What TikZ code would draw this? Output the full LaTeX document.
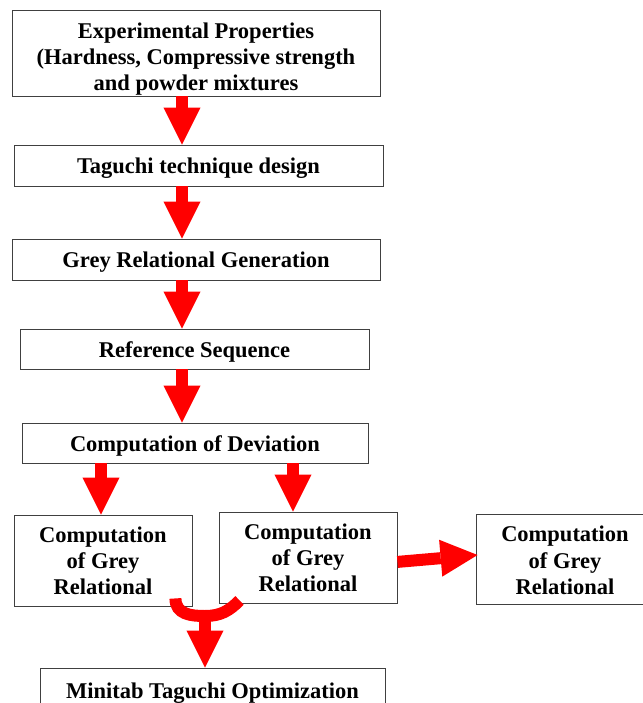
\documentclass[tikz,border=0pt]{standalone}
\usepackage{fontspec}
\setmainfont{Liberation Serif}
\usetikzlibrary{arrows.meta,positioning}

\begin{document}
\begin{tikzpicture}[x=0.025cm, y=-0.025cm,
  font=\fontsize{16}{18.5}\selectfont\bfseries,
  box/.style={draw=black!75, line width=0.6pt, align=center, inner sep=1mm,
              text height=12pt, text depth=0pt},
  tallbox/.style={box, minimum width=4.45cm, minimum height=2.275cm,
              text height=49pt},
  blk/.style={draw=red, line width=3mm,
              -{Triangle[width=9.25mm, length=9.25mm, line width=0pt]}},
  band/.style={draw=red, line width=3mm}]
\useasboundingbox (0,0) rectangle (643,703);
% --- main column ---
\node[box, minimum width=9.2cm, minimum height=2.15cm, text height=54pt] (exp) at (196,53)
  {Experimental Properties\\(Hardness, Compressive strength\\and powder mixtures};
\node[box, minimum width=9.225cm, minimum height=1.025cm] (tag) at (198.5,165.5)
  {Taguchi technique design};
\node[box, minimum width=9.2cm, minimum height=1.025cm] (grg) at (196,259.5)
  {Grey Relational Generation};
\node[box, minimum width=8.725cm, minimum height=1cm] (ref) at (194.5,349)
  {Reference Sequence};
\node[box, minimum width=8.65cm, minimum height=1cm] (dev) at (195,443)
  {Computation of Deviation};
\coordinate (spine) at (182,0);
\draw[blk] (exp.south -| spine) -- (tag.north -| spine);
\draw[blk] (tag.south -| spine) -- (grg.north -| spine);
\draw[blk] (grg.south -| spine) -- (ref.north -| spine);
\draw[blk] (ref.south -| spine) -- (dev.north -| spine);
% --- grey relational boxes ---
\node[tallbox] (cgl) at (103,560.5) {Computation\\of Grey\\Relational};
\node[tallbox] (cgm) at (308,557.5) {Computation\\of Grey\\Relational};
\node[tallbox, minimum height=2.25cm, text height=49.8pt] (cgr) at (565,559)
  {Computation\\of Grey\\Relational};
\coordinate (lx) at (101,0);
\coordinate (mx) at (293,0);
\draw[blk] (dev.south -| lx) -- (cgl.north -| lx);
\draw[blk] (dev.south -| mx) -- (cgm.north -| mx);
\draw[blk] ([yshift=-1.1mm]cgm.east) -- ([xshift=0.5mm, yshift=1mm]cgr.west);
% --- merge into optimization ---
\node[box, minimum width=8.625cm, minimum height=1.125cm] (min) at (212.5,690.5)
  {Minitab Taguchi Optimization};
\coordinate (join) at (205,616);
\draw[band] ([xshift=-4.25mm, yshift=2mm]cgl.south east)
  .. controls +(0,16) and +(-14,0) .. (join)
  .. controls +(16,0) and +(-10,10) .. ([xshift=5.25mm, yshift=0.75mm]cgm.south west);
\draw[blk] (join) -- (min.north -| join);
\end{tikzpicture}
\end{document}
